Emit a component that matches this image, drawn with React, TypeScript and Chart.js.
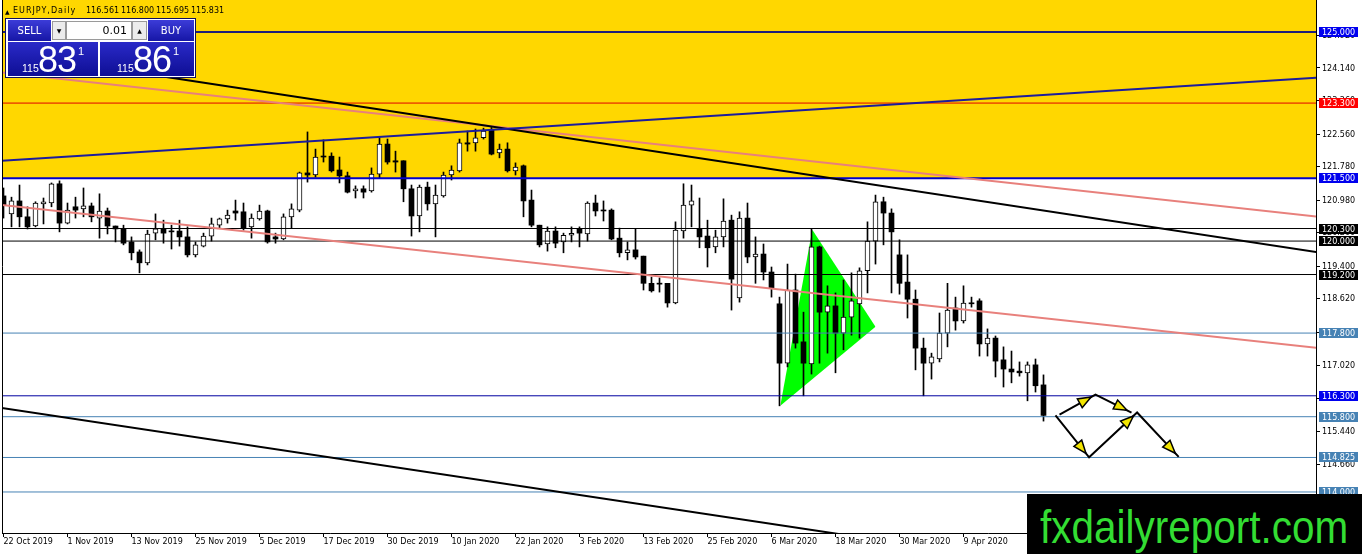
import React, { useEffect, useRef } from 'react';
import { Chart, registerables } from 'chart.js';

Chart.register(...registerables);

// ---------------- data ----------------
const symbolTitle = 'EURJPY,Daily';
const tickLabels = ['22 Oct 2019', '1 Nov 2019', '13 Nov 2019', '25 Nov 2019', '5 Dec 2019', '17 Dec 2019', '30 Dec 2019', '10 Jan 2020', '22 Jan 2020', '3 Feb 2020', '13 Feb 2020', '25 Feb 2020', '6 Mar 2020', '18 Mar 2020', '30 Mar 2020', '9 Apr 2020', '21 Apr 2020'];
const tickBars = [0, 8, 16, 24, 32, 40, 48, 56, 64, 72, 80, 88, 96, 104, 112, 120, 128];

const opens = [
  121.08, 120.65, 120.96, 120.58, 120.36, 120.89, 120.91, 121.37, 120.43, 120.82,
  120.77, 120.84, 120.55, 120.72, 120.36, 120.29, 119.98, 119.74, 119.48, 120.19,
  120.29, 120.24, 120.24, 120.10, 119.67, 119.88, 120.12, 120.38, 120.53, 120.72,
  120.70, 120.34, 120.53, 120.72, 120.10, 120.05, 120.58, 120.74, 121.63, 121.58,
  122.03, 122.03, 121.70, 121.56, 121.20, 121.25, 121.20, 121.60, 122.32, 121.92,
  121.92, 121.25, 120.60, 121.29, 120.89, 121.08, 121.58, 121.68, 122.35, 122.35,
  122.47, 122.66, 122.11, 122.20, 121.68, 121.80, 120.98, 120.38, 119.93, 120.24,
  119.98, 120.14, 120.29, 120.17, 120.91, 120.74, 120.74, 120.07, 119.72, 119.79,
  119.64, 118.99, 118.99, 118.99, 118.52, 120.24, 120.86, 120.29, 120.12, 119.86,
  120.10, 120.50, 118.64, 120.55, 119.62, 119.69, 119.26, 118.50, 117.08, 118.83,
  117.59, 117.06, 119.86, 118.30, 118.45, 117.80, 118.18, 118.50, 119.29, 120.00,
  120.94, 120.67, 119.67, 119.02, 118.61, 117.44, 117.08, 117.18, 117.80, 118.40,
  118.09, 118.52, 118.57, 117.54, 117.68, 117.16, 116.94, 116.89, 116.85, 117.04,
  116.561,
];
const highs = [
  121.27, 121.05, 121.34, 120.82, 120.94, 121.03, 121.39, 121.44, 120.91, 121.05,
  121.27, 120.91, 121.13, 120.79, 120.36, 120.38, 120.10, 119.79, 120.26, 120.65,
  120.50, 120.38, 120.50, 120.34, 119.98, 120.19, 120.55, 120.55, 120.74, 120.98,
  120.91, 120.65, 120.86, 120.74, 120.19, 120.65, 120.89, 121.65, 122.61, 122.20,
  122.42, 122.11, 122.01, 121.65, 121.32, 121.32, 121.75, 122.47, 122.44, 122.15,
  121.92, 121.34, 121.34, 121.41, 121.34, 121.65, 121.80, 122.44, 122.63, 122.68,
  122.70, 122.73, 122.32, 122.35, 121.87, 121.82, 121.22, 120.38, 120.34, 120.34,
  120.19, 120.34, 120.34, 120.94, 121.10, 120.96, 120.77, 120.31, 119.98, 120.29,
  119.64, 119.14, 119.12, 118.99, 120.46, 121.37, 121.34, 121.03, 120.50, 120.26,
  121.01, 120.62, 120.70, 120.91, 120.10, 119.93, 119.38, 118.66, 119.45, 119.21,
  118.30, 120.29, 119.88, 118.93, 118.76, 119.07, 119.24, 119.36, 120.46, 121.10,
  121.05, 120.77, 120.03, 119.67, 118.83, 117.68, 117.32, 118.28, 118.99, 118.66,
  118.93, 118.66, 118.62, 117.90, 117.73, 117.47, 117.37, 117.11, 117.11, 117.18,
  116.800,
];
const lows = [
  120.55, 120.34, 120.34, 120.29, 120.34, 120.41, 120.82, 120.22, 120.41, 120.55,
  120.58, 120.46, 120.07, 120.17, 119.98, 119.91, 119.55, 119.24, 119.43, 120.03,
  119.95, 119.81, 119.88, 119.62, 119.62, 119.86, 120.00, 120.31, 120.43, 120.50,
  120.26, 120.07, 120.50, 119.95, 119.95, 120.03, 120.31, 120.70, 121.41, 121.53,
  121.89, 121.65, 121.39, 121.15, 121.03, 121.03, 121.17, 121.51, 121.84, 121.65,
  120.94, 120.12, 120.22, 120.74, 120.10, 121.05, 121.46, 121.65, 122.15, 122.15,
  122.44, 122.06, 121.99, 121.65, 121.58, 120.58, 120.34, 119.86, 119.76, 119.84,
  119.72, 119.98, 119.86, 120.00, 120.60, 120.48, 120.03, 119.62, 119.55, 119.57,
  118.83, 118.78, 118.78, 118.42, 118.50, 120.07, 120.34, 119.84, 119.38, 119.72,
  119.86, 118.35, 118.54, 119.48, 118.99, 119.07, 118.66, 116.06, 116.99, 117.44,
  116.30, 116.82, 117.08, 117.32, 116.85, 117.40, 117.75, 117.68, 118.76, 119.45,
  119.91, 118.76, 118.73, 118.16, 116.92, 116.30, 116.70, 117.11, 117.47, 117.87,
  118.04, 118.42, 117.25, 117.25, 116.75, 116.51, 116.61, 116.77, 116.18, 116.39,
  115.695,
];
const closes = [
  120.86, 120.96, 120.58, 120.34, 120.91, 120.94, 121.37, 120.43, 120.74, 120.74,
  120.84, 120.58, 120.72, 120.36, 120.29, 119.95, 119.72, 119.48, 120.17, 120.29,
  120.19, 120.22, 120.10, 119.67, 119.91, 120.12, 120.41, 120.53, 120.62, 120.67,
  120.31, 120.55, 120.72, 119.98, 120.05, 120.58, 120.77, 121.63, 121.58, 122.01,
  122.01, 121.68, 121.56, 121.17, 121.25, 121.17, 121.60, 122.32, 121.89, 121.89,
  121.25, 120.60, 121.29, 120.89, 121.10, 121.58, 121.70, 122.35, 122.32, 122.47,
  122.63, 122.08, 122.20, 121.68, 121.77, 120.96, 120.38, 119.91, 120.24, 119.95,
  120.14, 120.17, 120.19, 120.91, 120.72, 120.72, 120.05, 119.72, 119.79, 119.62,
  118.99, 118.81, 118.97, 118.52, 120.26, 120.86, 120.96, 120.10, 119.84, 120.10,
  120.48, 119.09, 120.55, 119.62, 119.69, 119.26, 118.88, 117.08, 118.83, 117.56,
  117.08, 119.86, 118.30, 118.45, 117.80, 118.18, 118.57, 119.29, 120.00, 120.94,
  120.67, 120.22, 118.99, 118.61, 117.44, 117.08, 117.23, 117.80, 118.35, 118.09,
  118.52, 118.50, 117.54, 117.68, 117.13, 116.94, 116.87, 116.85, 117.04, 116.54,
  115.831,
];

const bidPrice = '115.831';
const askPrice = '115.861';
const lotSize = '0.01';

const levels = [125.0, 123.3, 121.5, 120.3, 120.0, 119.2, 117.8, 116.3, 115.8, 114.825, 114.0];
const axisTicks = [124.92, 124.14, 123.36, 122.56, 121.78, 120.98, 120.2, 119.4, 118.62, 117.82, 117.02, 116.24, 115.44, 114.66, 113.88];
const yellowZoneFloor = 121.5;

const blueTrend = [[-1, 121.91], [165, 123.92]];
const blackUpperTrend = [[7, 124.31], [165, 119.71]];
const pinkUpperTrend = [[-1, 124.05], [165, 120.57]];
const pinkLowerTrend = [[-1, 120.88], [165, 117.43]];
const blackLowerTrend = [[-1, 116.03], [165, 111.25]];

const triangleUpper = [[97.1, 116.06], [101.1, 120.27], [109, 117.95]];
const triangleLower = [[97.1, 116.06], [109, 117.95]];

const arrowPathA = [[132, 115.85], [136.5, 116.33], [141, 115.9]];
const arrowPathB = [[131.5, 115.83], [135.7, 114.83], [141.7, 115.9], [146.9, 114.84]];

// ---------------- styles ----------------
const levelLineColors = ['#1e1e7a', '#e00000', '#0000c8', '#000000', '#000000', '#000000', '#4682b4', '#0000a0', '#4682b4', '#4682b4', '#4682b4'];
const levelLineWidths = [2, 1, 2, 1, 1, 1, 1, 1, 1, 1, 1];
const levelBoxColors = ['#0000ee', '#ff0000', '#0000ee', '#000000', '#000000', '#000000', '#4682b4', '#0000ee', '#4682b4', '#4682b4', '#4682b4'];
const trendSets = [
  { pts: blueTrend, color: '#1c1c9c' },
  { pts: blackUpperTrend, color: '#000000' },
  { pts: pinkUpperTrend, color: '#e8807c' },
  { pts: pinkLowerTrend, color: '#e8807c' },
  { pts: blackLowerTrend, color: '#000000' },
];
const arrowPaths = [arrowPathA, arrowPathB];

const X_MIN = -0.1875;
const X_MAX = 164.0625;
const Y_MIN = 113.019;
const Y_MAX = 125.765;
const AXIS_FONT = '8px "DejaVu Sans"';

const toXY = (pts: number[][]) => pts.map(([x, y]) => ({ x, y }));

const overlayPlugin = {
  id: 'mt4Overlay',
  afterDatasetsDraw(chart: any) {
    const { ctx, chartArea, scales } = chart;
    const xs = scales.x;
    const ys = scales.y;
    ctx.save();
    ctx.beginPath();
    ctx.rect(chartArea.left, chartArea.top, chartArea.right - chartArea.left, chartArea.bottom - chartArea.top);
    ctx.clip();
    for (const path of arrowPaths) {
      const pts = path.map(([i, p]) => [xs.getPixelForValue(i), ys.getPixelForValue(p)]);
      ctx.strokeStyle = '#000';
      ctx.lineWidth = 2;
      ctx.lineJoin = 'miter';
      ctx.beginPath();
      pts.forEach(([x, y], k) => (k ? ctx.lineTo(x, y) : ctx.moveTo(x, y)));
      ctx.stroke();
      for (let k = 1; k < pts.length; k++) {
        const [ax, ay] = pts[k - 1];
        const [bx, by] = pts[k];
        const len = Math.hypot(bx - ax, by - ay);
        const ux = (bx - ax) / len;
        const uy = (by - ay) / len;
        const tx = bx - ux * 5;
        const ty = by - uy * 5;
        const baseX = tx - ux * 13;
        const baseY = ty - uy * 13;
        const nx = -uy;
        const ny = ux;
        ctx.beginPath();
        ctx.moveTo(tx, ty);
        ctx.lineTo(baseX + nx * 5, baseY + ny * 5);
        ctx.lineTo(baseX - nx * 5, baseY - ny * 5);
        ctx.closePath();
        ctx.fillStyle = '#f2e400';
        ctx.fill();
        ctx.lineWidth = 1.5;
        ctx.stroke();
      }
    }
    ctx.restore();
  },
  afterDraw(chart: any) {
    const { ctx, chartArea, scales } = chart;
    const ys = scales.y;
    ctx.save();
    // left frame
    ctx.strokeStyle = '#000';
    ctx.lineWidth = 1;
    ctx.beginPath();
    ctx.moveTo(chartArea.left + 0.5, chartArea.top);
    ctx.lineTo(chartArea.left + 0.5, chartArea.bottom);
    ctx.stroke();
    // price labels
    ctx.font = AXIS_FONT;
    ctx.textBaseline = 'middle';
    ctx.textAlign = 'left';
    const lx = chartArea.right + 6;
    ctx.fillStyle = '#000';
    for (const v of axisTicks) {
      const y = ys.getPixelForValue(v);
      ctx.fillText(v.toFixed(3), lx, y + 0.5);
    }
    levels.forEach((v, k) => {
      const y = Math.round(ys.getPixelForValue(v));
      ctx.fillStyle = levelBoxColors[k];
      ctx.fillRect(chartArea.right + 3, y - 5, 39, 10);
      ctx.fillStyle = '#fff';
      ctx.fillText(v.toFixed(3), lx, y + 0.5);
    });
    ctx.restore();
  },
};

function buildConfig(): any {
  const bullIdx = opens.map((_, i) => i).filter((i) => closes[i] >= opens[i]);
  const bearIdx = opens.map((_, i) => i).filter((i) => closes[i] < opens[i]);
  const datasets: any[] = [];
  datasets.push({
    type: 'line',
    data: [{ x: X_MIN - 5, y: Y_MAX }, { x: X_MAX + 5, y: Y_MAX }],
    fill: { value: yellowZoneFloor },
    backgroundColor: '#ffd700',
    borderWidth: 0,
    pointRadius: 0,
    order: 20,
  });
  datasets.push({
    type: 'line',
    data: toXY(triangleUpper),
    fill: '+1',
    backgroundColor: '#00ff00',
    borderColor: '#00ff00',
    borderWidth: 0,
    pointRadius: 0,
    order: 19,
  });
  datasets.push({
    type: 'line',
    data: toXY(triangleLower),
    fill: false,
    borderColor: '#00ff00',
    borderWidth: 0,
    pointRadius: 0,
    order: 19,
  });
  datasets.push({
    type: 'bar',
    data: opens.map((_, i) => ({ x: i, y: [lows[i], highs[i]] })),
    backgroundColor: '#000',
    borderWidth: 0,
    barThickness: 1,
    minBarLength: 1,
    grouped: false,
    order: 18,
  });
  datasets.push({
    type: 'bar',
    data: bullIdx.map((i) => ({ x: i, y: [opens[i], closes[i]] })),
    backgroundColor: '#fff',
    borderColor: '#000',
    borderWidth: 1,
    borderSkipped: false,
    barThickness: 5,
    minBarLength: 2,
    grouped: false,
    order: 17,
  });
  datasets.push({
    type: 'bar',
    data: bearIdx.map((i) => ({ x: i, y: [closes[i], opens[i]] })),
    backgroundColor: '#000',
    borderWidth: 0,
    barThickness: 5,
    minBarLength: 1,
    grouped: false,
    order: 16,
  });
  levels.forEach((v, k) => {
    datasets.push({
      type: 'line',
      data: [{ x: X_MIN - 2, y: v }, { x: X_MAX + 2, y: v }],
      borderColor: levelLineColors[k],
      borderWidth: levelLineWidths[k],
      pointRadius: 0,
      fill: false,
      order: 10,
    });
  });
  trendSets.forEach((t) => {
    datasets.push({
      type: 'line',
      data: toXY(t.pts),
      borderColor: t.color,
      borderWidth: 2,
      pointRadius: 0,
      fill: false,
      order: 5,
    });
  });

  return {
    type: 'bar',
    data: { datasets },
    plugins: [overlayPlugin],
    options: {
      animation: false,
      responsive: false,
      maintainAspectRatio: false,
      events: [],
      layout: { padding: { left: 2, right: 0, top: 0, bottom: 0 } },
      plugins: { legend: { display: false }, tooltip: { enabled: false }, title: { display: false } },
      scales: {
        x: {
          type: 'linear',
          min: X_MIN,
          max: X_MAX,
          offset: false,
          position: 'bottom',
          grid: { drawOnChartArea: false, drawTicks: true, tickLength: 4, color: '#000', offset: false },
          border: { display: true, color: '#000', width: 1 },
          ticks: {
            align: 'start',
            padding: 0,
            autoSkip: false,
            maxRotation: 0,
            minRotation: 0,
            color: '#000',
            font: { family: 'DejaVu Sans', size: 8 },
            callback: (_v: any, i: number) => tickLabels[i] ?? '',
          },
          afterBuildTicks: (scale: any) => {
            scale.ticks = tickBars.map((v) => ({ value: v }));
          },
          afterFit: (scale: any) => {
            scale.height = 21;
          },
        },
        y: {
          type: 'linear',
          position: 'right',
          min: Y_MIN,
          max: Y_MAX,
          grid: { drawOnChartArea: false, drawTicks: true, tickLength: 4, color: '#000' },
          border: { display: true, color: '#000', width: 1 },
          ticks: { display: false },
          afterBuildTicks: (scale: any) => {
            scale.ticks = axisTicks.map((v) => ({ value: v }));
          },
          afterFit: (scale: any) => {
            scale.width = 46;
          },
        },
      },
    },
  };
}

const abs = (left: number, top: number, width?: number, height?: number, extra: any = {}) => ({
  position: 'absolute' as const,
  left,
  top,
  width,
  height,
  ...extra,
});

const btnGrad = 'linear-gradient(#3c3cd8, #1616a6)';
const priceGrad = 'linear-gradient(#2a2ac8, #0e0e94)';

function PriceBox({ left, width, price, offs }: { left: number; width: number; price: string; offs: number }) {
  const small = price.slice(0, 3);
  const big = price.slice(4, 6);
  const sup = price.slice(6);
  return (
    <>
      <div style={abs(left, 42, width, 34, { background: priceGrad })} />
      <div style={abs(left + offs, 62.5, undefined, 11, { font: '10.5px "Liberation Sans"', lineHeight: '11px', color: '#fff' })}>{small}</div>
      <div style={abs(left + offs + 16, 41.5, undefined, 36, { font: '36px "Liberation Sans"', lineHeight: '36px', color: '#fff', letterSpacing: '-1px' })}>{big}</div>
      <div style={abs(left + offs + 56, 46, undefined, 11, { font: '11px "Liberation Sans"', lineHeight: '11px', color: '#fff' })}>{sup}</div>
    </>
  );
}

export default function App() {
  const canvasRef = useRef<HTMLCanvasElement>(null);
  useEffect(() => {
    document.body.style.margin = '0';
    const chart = new Chart(canvasRef.current as HTMLCanvasElement, buildConfig());
    return () => chart.destroy();
  }, []);

  const headerVals = [opens[130], highs[130], lows[130], closes[130]].map((v) => v.toFixed(3));
  const txt = { font: '8px "DejaVu Sans"', lineHeight: '8px', color: '#000', whiteSpace: 'nowrap' as const };

  return (
    <div style={{ position: 'relative', width: 1362, height: 554, overflow: 'hidden', background: '#fff' }}>
      <canvas ref={canvasRef} width={1362} height={554} style={{ position: 'absolute', left: 0, top: 0, width: 1362, height: 554 }} />
      {/* header */}
      <div style={abs(5, 7.5, undefined, 8, { ...txt, font: '6px "DejaVu Sans"' })}>▲</div>
      <div style={abs(13, 7.2, undefined, 8, { ...txt, letterSpacing: '1px' })}>{symbolTitle}</div>
      {headerVals.map((v, k) => (
        <div key={k} style={abs(86 + k * 35, 7.2, undefined, 8, txt)}>{v}</div>
      ))}
      {/* trade panel */}
      <div style={abs(5, 18, 191, 60, { background: '#fff', border: '1px solid #10105a', boxSizing: 'border-box' })} />
      <div style={abs(8, 20, 43, 21, { background: btnGrad, color: '#fff', font: '10px "DejaVu Sans"', lineHeight: '21px', textAlign: 'center' })}>SELL</div>
      <div style={abs(52, 21, 14, 19, { background: '#ececec', border: '1px solid #9a9a9a', boxSizing: 'border-box', font: '6px "DejaVu Sans"', lineHeight: '17px', textAlign: 'center', color: '#000' })}>▼</div>
      <div style={abs(66, 21, 66, 19, { background: '#fff', border: '1px solid #9a9a9a', boxSizing: 'border-box', font: '11px "DejaVu Sans"', lineHeight: '17px', textAlign: 'right', paddingRight: 4, color: '#000' })}>{lotSize}</div>
      <div style={abs(132, 21, 15, 19, { background: '#ececec', border: '1px solid #9a9a9a', boxSizing: 'border-box', font: '6px "DejaVu Sans"', lineHeight: '17px', textAlign: 'center', color: '#000' })}>▲</div>
      <div style={abs(148, 20, 46, 21, { background: btnGrad, color: '#fff', font: '10px "DejaVu Sans"', lineHeight: '21px', textAlign: 'center' })}>BUY</div>
      <PriceBox left={8} width={90} price={bidPrice} offs={14} />
      <PriceBox left={100} width={94} price={askPrice} offs={17} />
      {/* watermark */}
      <div style={abs(1027, 494, 335, 60, { background: '#000' })} />
      <div style={abs(1040, 504, undefined, 46, { font: '46px "Liberation Sans"', lineHeight: '46px', color: '#33dd33', transform: 'scaleX(0.88)', transformOrigin: 'left top', whiteSpace: 'nowrap' })}>fxdailyreport.com</div>
    </div>
  );
}
